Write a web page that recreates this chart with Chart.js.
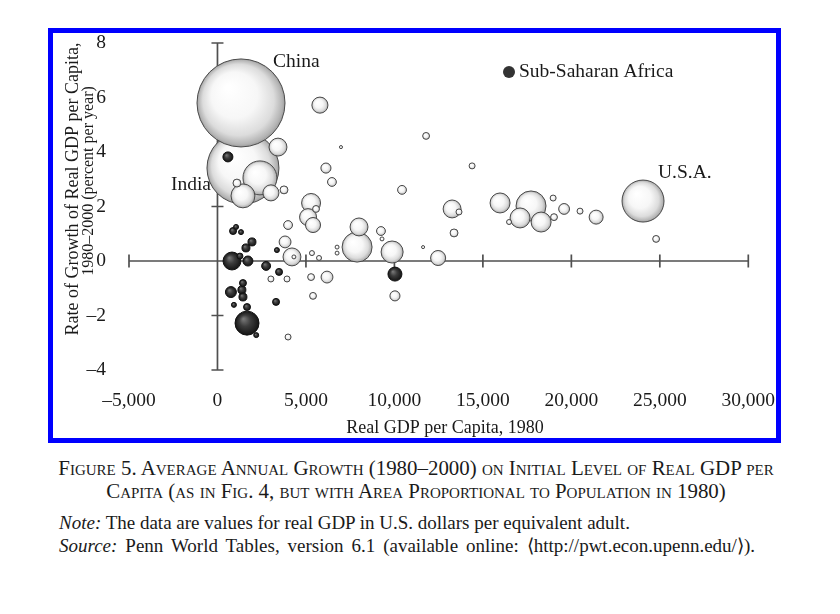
<!DOCTYPE html>
<html><head><meta charset="utf-8">
<script src="https://cdn.jsdelivr.net/npm/chart.js@4"></script>
<style>
body{margin:0;background:#fff;width:840px;height:614px;position:relative;overflow:hidden;font-family:'Liberation Serif','Times New Roman',serif;color:#1a1a1a}
#frame{position:absolute;left:48px;top:28px;width:733px;height:415px;box-sizing:border-box;border:5.5px solid #0000ff}
#wrap{position:absolute;left:54px;top:34px;width:721px;height:403px}
.cap{position:absolute;left:0;width:832px;text-align:center;font-variant:small-caps;font-size:20.9px;line-height:23px;white-space:nowrap}
.note{position:absolute;left:59px;font-size:19px;line-height:23px;white-space:nowrap}
</style></head>
<body>
<div id="frame"></div>
<div id="wrap"><canvas id="c"></canvas></div>
<div class="cap" style="top:457px">Figure 5. Average Annual Growth (1980–2000) on Initial Level of Real GDP per</div>
<div class="cap" style="top:480px">Capita (as in Fig. 4, but with Area Proportional to Population in 1980)</div>
<div class="note" style="top:511px"><i>Note:</i> The data are values for real GDP in U.S. dollars per equivalent adult.</div>
<div class="note" style="top:534px;word-spacing:3.2px"><i>Source:</i> Penn World Tables, version 6.1 (available online: ⟨http://pwt.econ.upenn.edu/⟩).</div>
<script>
// ---- data ----
// Countries other than Sub-Saharan Africa (real GDP per capita 1980, growth 1980-2000 %, population 1980 millions)
const otherGDP = [1440,1330,24050,2400,7890,17720,1440,9870,15970,17100,18290,5290,3420,4210,8000,13260,5120,3020,5790,5400,12470,21400,3820,6190,19590,6130,10030,6470,10430,3990,9240,1100,3760,13370,11790,5570,5290,5400,19020,24790,14390,13650,3990,3020,3930,18970,20490,5340,5740,16480,4320,9300,6760,6760,6980,11620];
const otherGrowth = [3.41,5.80,2.20,3.05,0.51,2.02,2.39,0.33,2.13,1.58,1.43,2.13,4.18,0.15,1.25,1.91,1.61,2.50,5.72,1.32,0.11,1.61,0.70,-0.59,1.91,3.41,-1.28,2.90,2.61,1.32,1.10,2.86,2.61,1.03,4.59,1.91,-0.59,-1.28,1.61,0.81,3.49,1.80,-2.79,-0.66,-0.66,2.31,1.83,0.29,0.11,1.43,0.15,0.81,0.51,0.29,4.18,0.51];
const otherPop = [661,988,225,147,115,115,73,62,51,51,51,46,41,41,41,41,37,33,33,29,29,25,18,18,15,13,13,10,10,10,10,8,8,8,6,6,6,6,6,6,4.6,4.6,4.6,4.6,4.6,4.6,4.6,3.2,3.2,3.2,2,2,2,2,1.2,1.2];
// Sub-Saharan Africa
const ssaGDP = [1670,820,10030,760,590,1720,2750,1950,1610,1380,1440,880,3480,1440,1670,3310,1270,1330,1050,3360,930,2190];
const ssaGrowth = [-2.28,0.00,-0.48,-1.14,3.82,0.00,-0.18,0.70,0.48,-1.06,-1.32,1.10,-0.40,-0.81,-1.69,-1.50,0.18,1.06,1.25,0.40,-1.61,-2.72];
const ssaPop = [73.5,41,25,15.4,12.8,12.8,10.3,8.2,8.2,8.2,8.2,6.25,6.25,6.25,6.25,6.25,4.6,3.2,3.2,3.2,3.2,3.2];
// labelled countries (index into the "other" arrays)
const annoText = ['China','India','U.S.A.'];
const annoIndex = [1,0,2];
// axes
const xTickValues = [-5000,0,5000,10000,15000,20000,25000,30000];
const xTickLabels = ['–5,000','0','5,000','10,000','15,000','20,000','25,000','30,000'];
const yTickValues = [-4,-2,0,2,4,6,8];
const yTickLabels = ['–4','–2','0','2','4','6','8'];
const xTitle = 'Real GDP per Capita, 1980';
const yTitle = ['Rate of Growth of Real GDP per Capita,','1980–2000 (percent per year)'];
const legendText = 'Sub-Saharan Africa';

// ---- rendering ----
const FONT = "'Liberation Serif','Times New Roman',serif";
const TXT = '#1a1a1a';
const areaRadius = p => 1.4*Math.sqrt(p);   // bubble area proportional to population
const toPoints = (xs, ys, ps) => xs.map((x,i)=>({x:x, y:ys[i], r:areaRadius(ps[i])}));

function shade(ctx, dark){
  const c = ctx.chart, p = ctx.parsed;
  if(!p || !c.chartArea) return dark ? '#333' : '#eee';
  const px = c.scales.x.getPixelForValue(p.x), py = c.scales.y.getPixelForValue(p.y);
  const r = Math.max(p._custom || 2, 1);
  const g = c.ctx.createRadialGradient(px - r*0.3, py - r*0.35, r*0.05, px, py, r);
  if(dark){
    g.addColorStop(0,'#767676'); g.addColorStop(0.45,'#3c3c3c'); g.addColorStop(1,'#141414');
  } else {
    g.addColorStop(0,'#ffffff'); g.addColorStop(0.5,'#f7f7f7'); g.addColorStop(0.8,'#dcdcdc');
    g.addColorStop(0.95,'#b4b4b4'); g.addColorStop(1,'#9c9c9c');
  }
  return g;
}

const deco = {
  id:'deco',
  beforeDatasetsDraw(chart){
    const {ctx, scales:{x,y}} = chart;
    const x0 = x.getPixelForValue(0), y0 = y.getPixelForValue(0);
    ctx.save();
    ctx.strokeStyle = '#505050'; ctx.lineWidth = 1.7;
    ctx.beginPath();
    ctx.moveTo(x0, y.getPixelForValue(yTickValues[yTickValues.length-1]));
    ctx.lineTo(x0, y.getPixelForValue(yTickValues[0]));
    ctx.moveTo(x.getPixelForValue(xTickValues[0]), y0);
    ctx.lineTo(x.getPixelForValue(xTickValues[xTickValues.length-1]), y0);
    yTickValues.forEach(v=>{ if(v!==0){ const p=y.getPixelForValue(v); ctx.moveTo(x0-6,p); ctx.lineTo(x0+6,p);} });
    xTickValues.forEach(v=>{ if(v!==0){ const p=x.getPixelForValue(v); ctx.moveTo(p,y0-6.5); ctx.lineTo(p,y0+6.5);} });
    ctx.stroke();
    ctx.restore();
  },
  afterDatasetsDraw(chart){
    const {ctx, scales:{x,y}} = chart;
    ctx.save();
    ctx.fillStyle = TXT;
    ctx.textBaseline = 'middle';
    ctx.font = "19.5px " + FONT;
    // country labels
    const offs = [[32,-41,'left'],[-32,17,'right'],[15,-28,'left']];
    annoText.forEach((t,k)=>{
      const i = annoIndex[k];
      const px = x.getPixelForValue(otherGDP[i]), py = y.getPixelForValue(otherGrowth[i]);
      ctx.textAlign = offs[k][2];
      ctx.fillText(t, px+offs[k][0], py+offs[k][1]);
    });
    // legend
    ctx.beginPath(); ctx.fillStyle='#333'; ctx.arc(455,38,6,0,Math.PI*2); ctx.fill();
    ctx.fillStyle = TXT; ctx.textAlign='left';
    ctx.fillText(legendText, 465, 38);
    // x title
    ctx.textAlign='center'; ctx.font = "18px " + FONT;
    ctx.fillText(xTitle, 391, 394);
    // y title
    ctx.translate(19,155); ctx.rotate(-Math.PI/2);
    ctx.font = "18px " + FONT; ctx.fillText(yTitle[0], 0, 0);
    ctx.rotate(Math.PI/2); ctx.translate(16,-8); ctx.rotate(-Math.PI/2);
    ctx.font = "16px " + FONT; ctx.fillText(yTitle[1], 0, 0);
    ctx.restore();
  }
};

new Chart(document.getElementById('c'), {
  type:'bubble',
  data:{
    datasets:[
      { label:legendText, data:toPoints(ssaGDP, ssaGrowth, ssaPop),
        backgroundColor: c=>shade(c,true), borderColor:'#111', borderWidth:1, clip:false },
      { label:'Other', data:toPoints(otherGDP, otherGrowth, otherPop),
        backgroundColor: c=>shade(c,false), borderColor:'#4a4a4a', borderWidth:1, clip:false }
    ]
  },
  options:{
    responsive:true, maintainAspectRatio:false, animation:false, events:[],
    layout:{autoPadding:false, padding:{left:0,right:26.7,top:9,bottom:0}},
    plugins:{legend:{display:false}, tooltip:{enabled:false}},
    scales:{
      x:{type:'linear', min:xTickValues[0], max:xTickValues[xTickValues.length-1],
         grid:{display:false, drawTicks:false}, border:{display:false},
         afterBuildTicks:s=>{ s.ticks = xTickValues.map(v=>({value:v})); },
         afterFit:s=>{ s.height=67; s.paddingLeft=0; s.paddingRight=0; },
         ticks:{padding:19, color:TXT, font:{family:FONT,size:19.5}, maxRotation:0, autoSkip:false,
                callback:(v)=>xTickLabels[xTickValues.indexOf(v)]}},
      y:{type:'linear', min:yTickValues[0], max:yTickValues[yTickValues.length-1],
         grid:{display:false, drawTicks:false}, border:{display:false},
         afterBuildTicks:s=>{ s.ticks = yTickValues.map(v=>({value:v})); },
         afterFit:s=>{ s.width=75; s.paddingTop=0; s.paddingBottom=0; },
         ticks:{padding:23, color:TXT, font:{family:FONT,size:19.5}, autoSkip:false,
                callback:(v)=>yTickLabels[yTickValues.indexOf(v)]}}
    }
  },
  plugins:[deco]
});
</script>
</body></html>
